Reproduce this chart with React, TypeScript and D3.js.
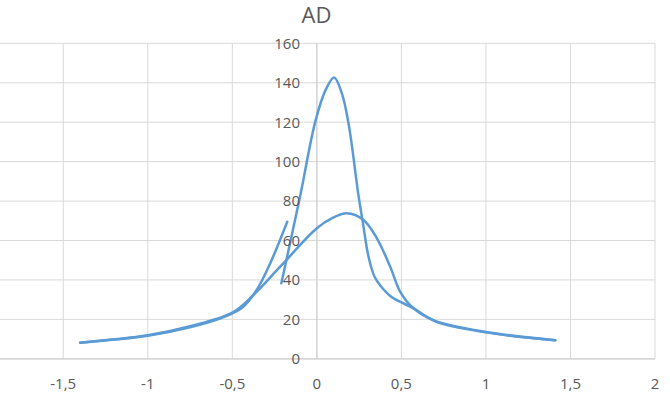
import React, { useEffect } from "react";
import * as d3 from "d3";

const title = "AD";
const xTicks = [-1.5, -1, -0.5, 0, 0.5, 1, 1.5, 2];
const yTicks = [0, 20, 40, 60, 80, 100, 120, 140, 160];

// broad curve
const broadX = [-1.4, -1.0, -0.75, -0.5, -0.375, -0.217, 0.0, 0.09, 0.177, 0.276, 0.355, 0.434, 0.493, 0.572, 0.7, 1.0, 1.41];
const broadY = [8.2, 11.9, 16.5, 23.4, 32.4, 46.7, 66.2, 71.3, 73.8, 70.4, 61.1, 46.7, 34, 25.6, 19.2, 13.6, 9.4];

// left fragment
const leftX = [-1.4, -1.0, -0.75, -0.57, -0.44, -0.355, -0.276, -0.175];
const leftY = [8.2, 11.7, 16, 20.5, 26, 35, 48.4, 69.5];

// tall peak
const tallX = [-0.21, -0.1, -0.01, 0.05, 0.102, 0.148, 0.19, 0.246, 0.276, 0.298, 0.318, 0.342, 0.375, 0.44, 0.572, 0.7, 1.0, 1.41];
const tallY = [38.3, 82, 120, 136, 142.7, 134.6, 118, 83, 67, 55, 47.5, 41.5, 37.2, 31.5, 25.6, 19, 13.4, 9.4];

const fmt = (v: number) => String(v).replace(".", ",");

export default function App() {
  useEffect(() => {
    document.body.style.margin = "0";
  }, []);
  const W = 670, H = 412;
  const x = d3.scaleLinear().domain([-2, 2]).range([-21.3, 655]);
  const y = d3.scaleLinear().domain([0, 160]).range([358.8, 43.3]);
  const line = d3
    .line<[number, number]>()
    .x((d) => x(d[0]))
    .y((d) => y(d[1]))
    .curve(d3.curveCatmullRom.alpha(0.5));
  const series = [
    d3.zip(broadX, broadY) as [number, number][],
    d3.zip(leftX, leftY) as [number, number][],
    d3.zip(tallX, tallY) as [number, number][],
  ];
  const font = "'Open Sans', 'Noto Sans', sans-serif";
  return (
    <svg width={W} height={H} style={{ display: "block" }} fontFamily={font}>
      <rect width={W} height={H} fill="#fff" />
      {yTicks.map((t) => (
        <line key={"h" + t} x1={x(-2)} x2={x(2)} y1={y(t)} y2={y(t)} stroke="#d9d9d9" strokeWidth={1} />
      ))}
      {[-2, ...xTicks].map((t) => (
        <line key={"v" + t} x1={x(t)} x2={x(t)} y1={y(0)} y2={y(160)} stroke="#d9d9d9" strokeWidth={1} />
      ))}
      <line x1={x(-2)} x2={x(2)} y1={y(0)} y2={y(0)} stroke="#d0d0d0" strokeWidth={1.2} />
      <line x1={x(0)} x2={x(0)} y1={y(0)} y2={y(160)} stroke="#d0d0d0" strokeWidth={1.2} />
      {series.map((s, i) => (
        <path key={i} d={line(s) || ""} fill="none" stroke="#5b9bd5" strokeWidth={2.5} strokeLinecap="round" />
      ))}
      {yTicks.map((t) => (
        <text key={"yl" + t} x={300} y={y(t)} dy="0.36em" textAnchor="end" fontSize={15} fill="#595959">
          {fmt(t)}
        </text>
      ))}
      {xTicks.map((t) => (
        <text key={"xl" + t} x={x(t)} y={389} textAnchor="middle" fontSize={15} fill="#595959">
          {fmt(t)}
        </text>
      ))}
      <text x={316.5} y={23} textAnchor="middle" fontSize={22} fill="#595959">
        {title}
      </text>
    </svg>
  );
}
